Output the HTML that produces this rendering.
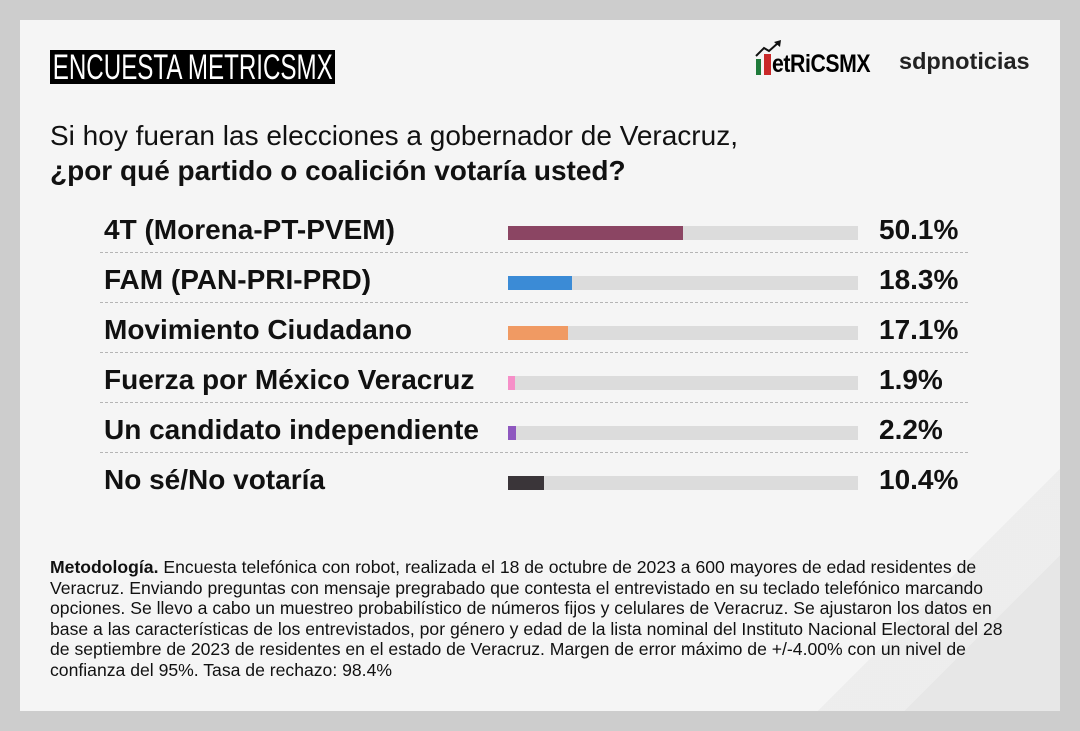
<!DOCTYPE html>
<html><head><meta charset="utf-8"><style>
html,body{margin:0;width:1080px;height:731px;overflow:hidden}
body{background:#cdcdcd;font-family:"Liberation Sans",Arial,sans-serif;position:relative}
.card{position:absolute;left:20px;top:20px;width:1040px;height:691px;background:#f5f5f5;overflow:hidden}
.diag{position:absolute;left:0;top:0;width:1040px;height:691px;background:linear-gradient(135deg,rgba(0,0,0,0) 86%,rgba(0,0,0,0.03) 86%,rgba(0,0,0,0.03) 91%,rgba(0,0,0,0.06) 91%)}
.tag{position:absolute;left:30px;top:30px;width:285px;height:34px;background:#000;color:#fff;font-size:35px;line-height:36px;white-space:nowrap;overflow:hidden}
.tag span{display:inline-block;transform:scaleX(0.69);transform-origin:left;padding-left:4px}
.q{position:absolute;left:30px;top:98px;font-size:28px;line-height:35px;color:#111}
.lbl{position:absolute;left:84px;font-size:28px;font-weight:bold;color:#111;line-height:32px}
.val{position:absolute;left:859px;font-size:28px;font-weight:bold;color:#111;line-height:32px}
.bar{position:absolute;left:488px;width:350px;height:14px;background:#dcdcdc}
.bar i{display:block;height:14px}
.sep{position:absolute;left:80px;width:868px;border-top:1px dashed #b5b5b5}
.met{position:absolute;left:30px;top:537px;width:1000px;font-size:17.6px;line-height:20.5px;color:#111;white-space:nowrap}
</style></head><body><div class="card">
<div class="diag"></div>
<div class="tag"><span>ENCUESTA METRICSMX</span></div>
<div style="position:absolute;left:734px;top:20px;width:150px;height:36px">
<div style="position:absolute;left:2px;top:19px;width:5px;height:16px;background:#1f7a3a"></div>
<div style="position:absolute;left:10px;top:14px;width:7px;height:21px;background:#c92a2a"></div>
<svg style="position:absolute;left:0;top:0" width="30" height="20"><polyline points="2,16 10,8 15,11 24,3" fill="none" stroke="#111" stroke-width="2"/><polygon points="20,2 27,0 26,7" fill="#111"/></svg>
<div style="position:absolute;left:18px;top:12px;font-size:25px;font-weight:bold;line-height:25px;transform:scaleX(0.85);transform-origin:left;letter-spacing:-0.5px">etRiCSMX</div>
</div>
<div style="position:absolute;left:879px;top:28px;font-size:23.5px;font-weight:bold;color:#222">sdpnoticias</div>
<div class="q">Si hoy fueran las elecciones a gobernador de Veracruz,<br><b>¿por qué partido o coalición votaría usted?</b></div>

<div class="lbl" style="top:194px">4T (Morena-PT-PVEM)</div><div class="bar" style="top:206px"><i style="width:175px;background:#8b4563"></i></div><div class="val" style="top:194px">50.1%</div>
<div class="sep" style="top:232px"></div>
<div class="lbl" style="top:244px">FAM (PAN-PRI-PRD)</div><div class="bar" style="top:256px"><i style="width:64px;background:#3b8bd6"></i></div><div class="val" style="top:244px">18.3%</div>
<div class="sep" style="top:282px"></div>
<div class="lbl" style="top:294px">Movimiento Ciudadano</div><div class="bar" style="top:306px"><i style="width:60px;background:#f09a63"></i></div><div class="val" style="top:294px">17.1%</div>
<div class="sep" style="top:332px"></div>
<div class="lbl" style="top:344px">Fuerza por México Veracruz</div><div class="bar" style="top:356px"><i style="width:7px;background:#f68fc8"></i></div><div class="val" style="top:344px">1.9%</div>
<div class="sep" style="top:382px"></div>
<div class="lbl" style="top:394px">Un candidato independiente</div><div class="bar" style="top:406px"><i style="width:8px;background:#8e57bf"></i></div><div class="val" style="top:394px">2.2%</div>
<div class="sep" style="top:432px"></div>
<div class="lbl" style="top:444px">No sé/No votaría</div><div class="bar" style="top:456px"><i style="width:36px;background:#3a3539"></i></div><div class="val" style="top:444px">10.4%</div>

<div class="met"><b>Metodología.</b> Encuesta telefónica con robot, realizada el 18 de octubre de 2023 a 600 mayores de edad residentes de<br>Veracruz. Enviando preguntas con mensaje pregrabado que contesta el entrevistado en su teclado telefónico marcando<br>opciones. Se llevo a cabo un muestreo probabilístico de números fijos y celulares de Veracruz. Se ajustaron los datos en<br>base a las características de los entrevistados, por género y edad de la lista nominal del Instituto Nacional Electoral del 28<br>de septiembre de 2023 de residentes en el estado de Veracruz. Margen de error máximo de +/-4.00% con un nivel de<br>confianza del 95%. Tasa de rechazo: 98.4%</div>
</div></body></html>
